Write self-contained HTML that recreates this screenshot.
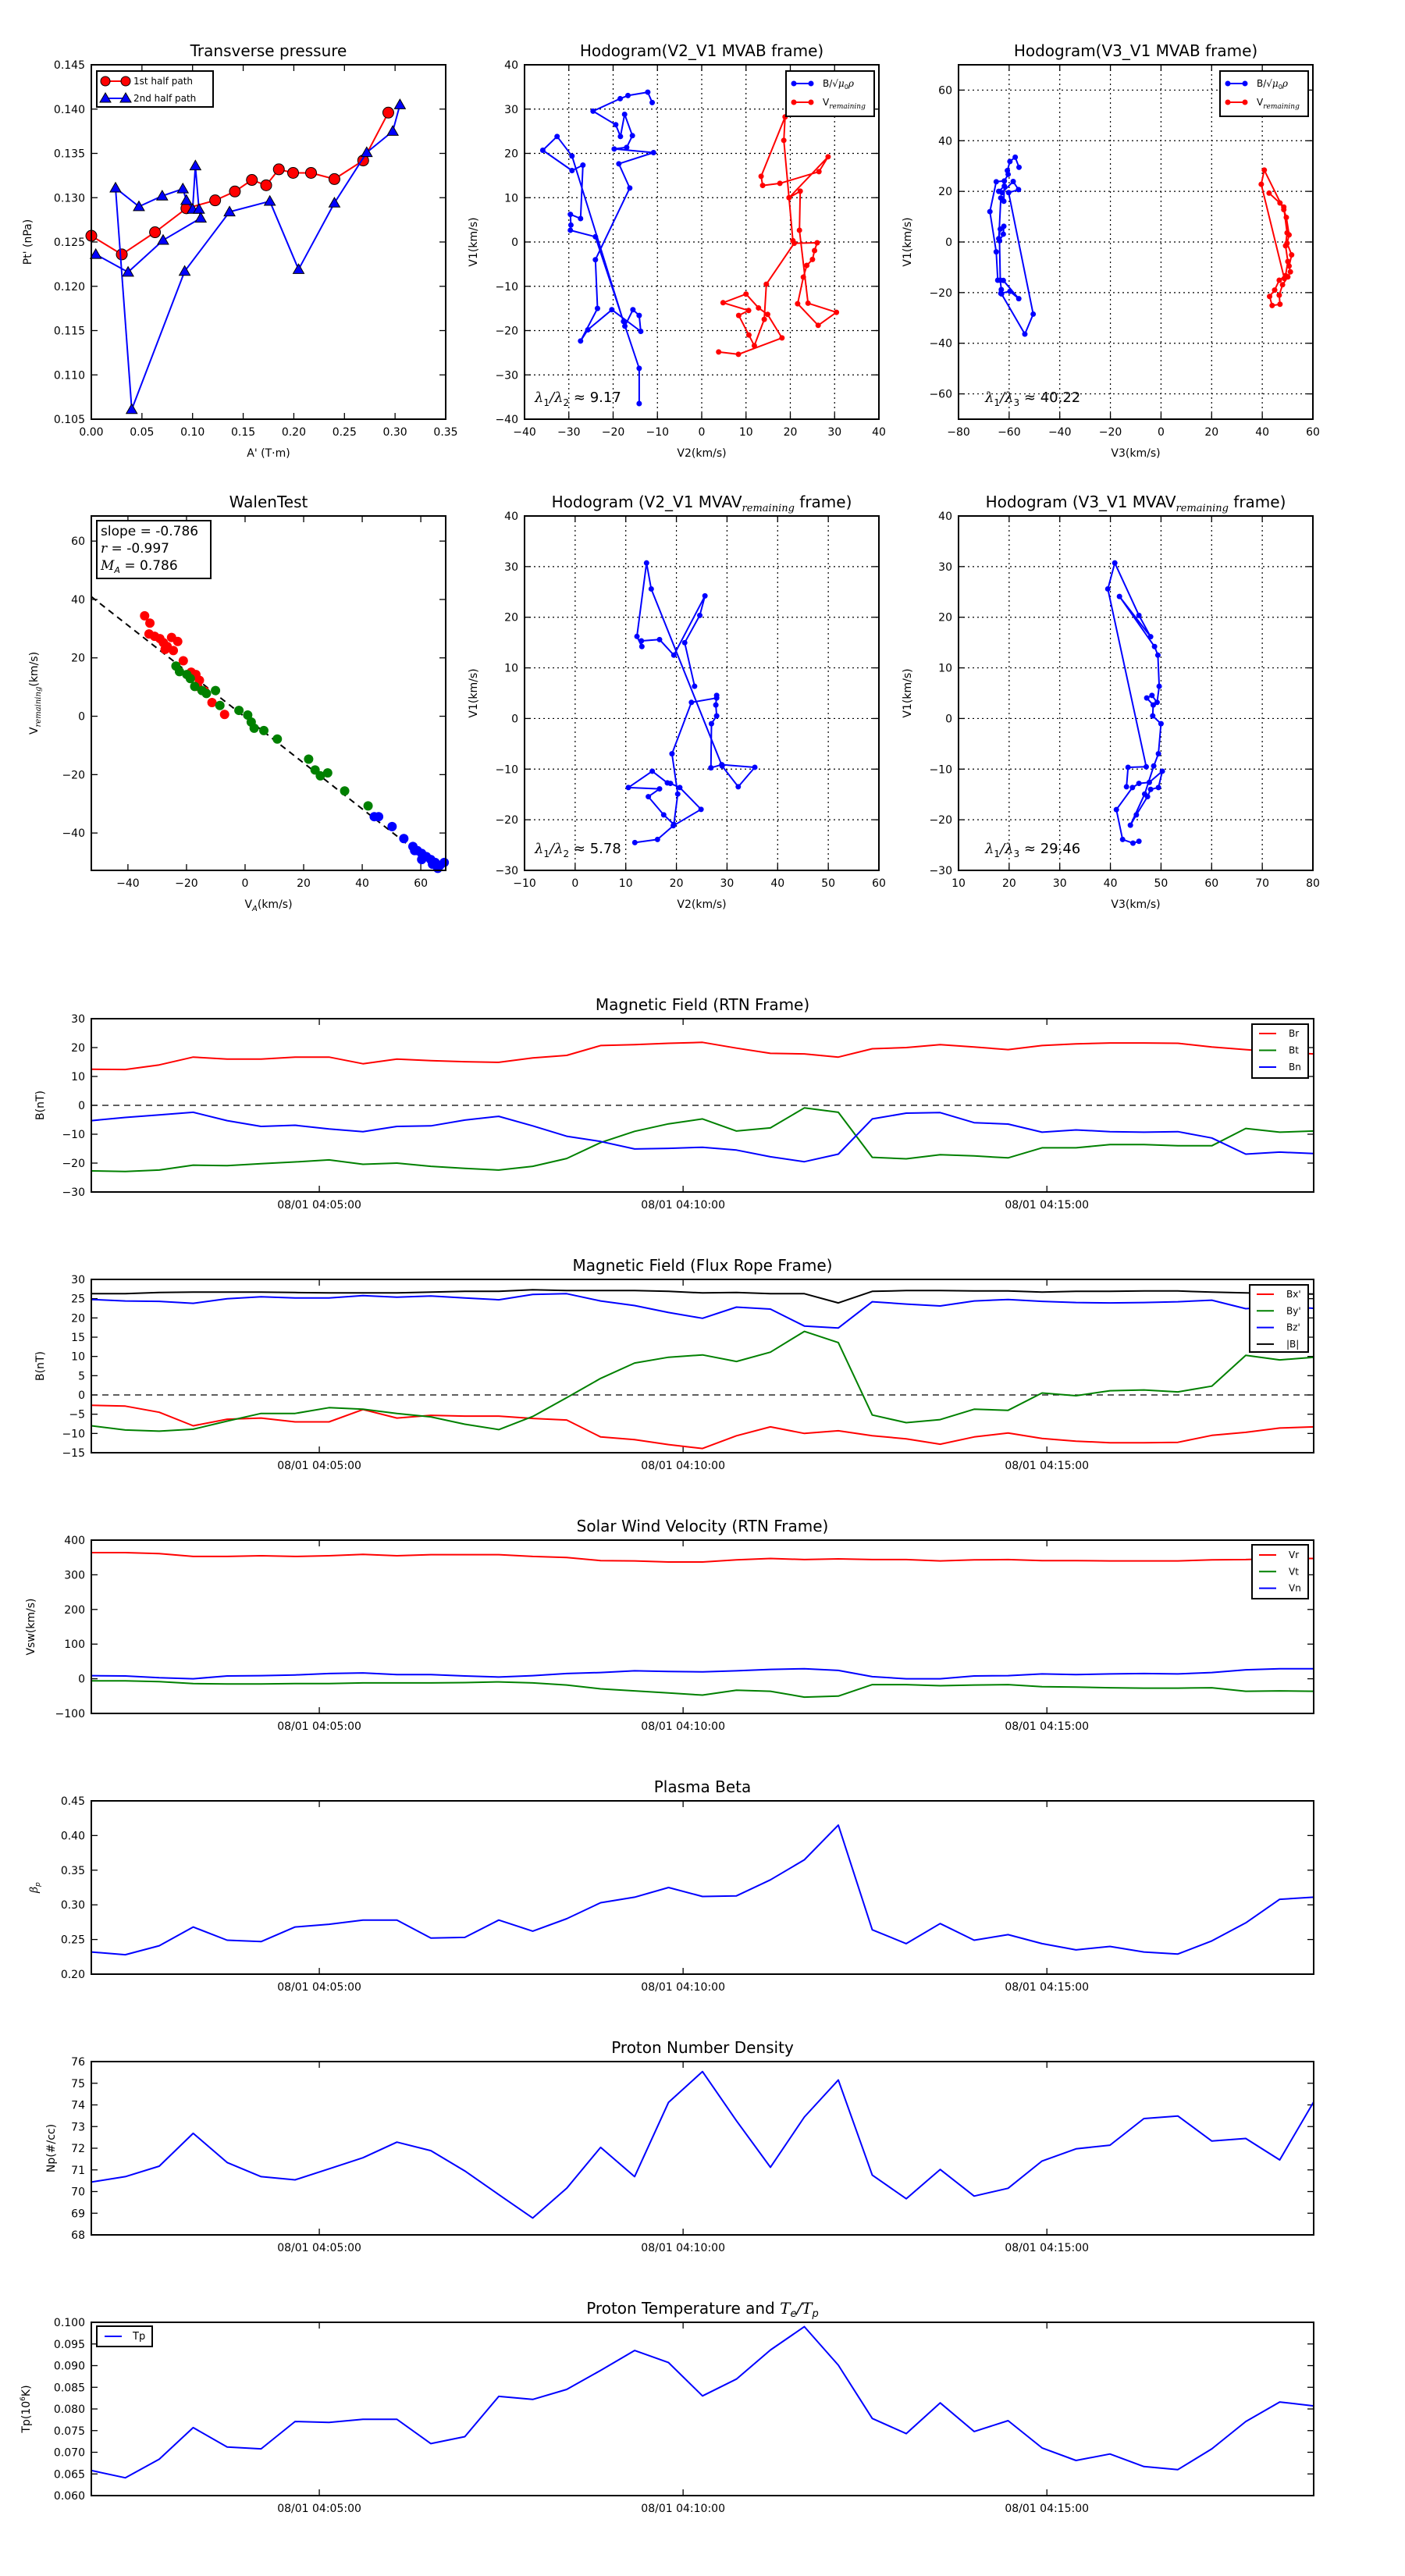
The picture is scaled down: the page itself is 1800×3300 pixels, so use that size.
<!DOCTYPE html>
<html>
<head>
<meta charset="utf-8">
<style>
html,body{margin:0;padding:0;background:#fff;}
svg{display:block;font-family:"DejaVu Sans","Liberation Sans",sans-serif;}
</style>
</head>
<body>
<svg id="fig" xmlns="http://www.w3.org/2000/svg" width="1800" height="3300" viewBox="0 0 1800 3300"></svg>
<script>
// ===== Transverse pressure =====
const tpA1 = [0,0.0301,0.0629,0.0939,0.1223,0.1418,0.1586,0.1727,0.1852,0.1993,0.2170,0.2401,0.2685,0.2933];
const tpP1 = [0.1257,0.1236,0.1261,0.1288,0.1297,0.1307,0.1320,0.1314,0.1332,0.1328,0.1328,0.1321,0.1342,0.1396];
const tpA2 = [0.3048,0.2977,0.2720,0.2401,0.2047,0.1763,0.1365,0.0922,0.0399,0.0239,0.0470,0.0700,0.0904,0.0939,0.1001,0.1028,0.1063,0.1081,0.0709,0.0363,0.0044];
const tpP2 = [0.1405,0.1375,0.1351,0.1294,0.1219,0.1296,0.1284,0.1217,0.1061,0.1311,0.1290,0.1302,0.1310,0.1297,0.1287,0.1336,0.1287,0.1277,0.1252,0.1216,0.1236];
const tpXTicks = [0,0.05,0.10,0.15,0.20,0.25,0.30,0.35];
const tpYTicks = [0.105,0.110,0.115,0.120,0.125,0.130,0.135,0.140,0.145];

// ===== Hodogram V2_V1 MVAB =====
const h1BV2 = [-11.18,-12.18,-16.65,-18.41,-24.53,-19.41,-18.35,-17.41,-15.65,-16.94,-19.76,-10.88,-18.71,-16.24,-24.0,-23.53,-27.35,-25.71,-20.29,-13.76,-14.12,-15.53,-17.35,-29.29,-32.65,-35.88,-29.29,-26.82,-27.35,-29.65,-29.53,-29.65,-24.0,-17.65,-14.12,-14.12];
const h1BV1 = [31.47,33.82,33.06,32.35,29.53,26.47,23.82,28.82,24.0,21.35,21.0,20.18,17.65,12.18,-4.0,-15.0,-22.35,-19.82,-15.29,-20.18,-16.59,-15.29,-19.0,19.41,23.82,20.71,16.12,17.35,5.29,6.24,3.82,2.65,1.18,-17.94,-28.53,-36.47];
const h1VV2 = [3.82,8.29,18.12,14.88,12.82,10.0,4.82,10.59,8.35,10.65,11.88,14.12,14.59,20.88,26.06,25.47,25.0,23.71,22.94,21.65,26.29,30.41,24.0,22.06,22.24,19.71,28.53,26.47,17.65,13.76,13.41,18.82,18.53,20.59];
const h1VV1 = [-24.82,-25.35,-21.65,-16.35,-14.88,-11.76,-13.71,-15.47,-16.59,-21.0,-23.41,-17.47,-9.53,-0.29,-0.18,-1.94,-3.94,-5.29,-7.94,-13.94,-18.82,-15.88,-13.82,2.65,11.47,10.0,19.24,15.88,13.24,12.76,14.82,28.24,22.94,0.29];
const h1Ticks = [-40,-30,-20,-10,0,10,20,30,40];

// ===== Hodogram V3_V1 MVAB =====
const h2BV3 = [-56.1,-57.6,-59.7,-60.7,-60.4,-61.9,-65.1,-67.6,-65.1,-64.5,-62.3,-56.2,-59.7,-63.3,-63.1,-63.5,-63.8,-62.3,-62.1,-63.5,-64.1,-63.3,-62.1,-61.9,-64.1,-62.8,-58.4,-56.3,-60.2,-50.5,-53.8,-63.0];
const h2BV1 = [29.5,33.5,31.8,28.2,26.7,24.1,23.8,12.0,-3.9,-15.1,-15.2,-22.4,-19.5,-20.3,-18.8,-15.1,0.5,3.1,6.2,5.1,1.3,17.4,16.1,22.1,20.0,19.5,23.9,20.7,19.5,-28.5,-36.4,-20.5];
const h2VV3 = [42.7,47.0,48.5,49.8,49.2,50.1,49.2,46.7,44.9,42.9,43.9,47.0,46.7,48.0,50.1,51.1,50.6,51.6,49.8,50.6,49.5,48.5,40.8,39.6,48.7];
const h2VV1 = [19.3,15.4,13.8,3.6,-1.5,-7.7,-13.3,-15.1,-19.0,-21.5,-25.1,-24.6,-21.0,-16.9,-13.8,-11.8,-9.5,-5.1,-0.5,2.8,9.7,12.8,28.4,22.8,-14.4];
const h2XTicks = [-80,-60,-40,-20,0,20,40,60];
const h2YTicks = [-60,-40,-20,0,20,40,60];

// ===== Walen test =====
const wRedVA = [-34.3,-32.5,-32.8,-30.9,-29.1,-27.9,-26.6,-25.1,-23.0,-24.5,-27.3,-21.1,-18.4,-16.8,-15.6,-16.2,-13.8,-11.3,-7.0];
const wRedVR = [34.4,31.9,28.2,27.4,26.6,25.2,23.9,27.0,25.6,22.5,22.9,19.0,15.1,14.3,12.3,10.2,8.6,4.7,0.6];
const wGreenVA = [-23.6,-22.4,-19.9,-18.7,-17.2,-14.7,-13.2,-10.1,-8.6,-2.1,0.9,2.1,3.1,6.4,11.0,21.7,23.9,25.7,28.2,34.0,42.0];
const wGreenVR = [17.2,15.3,14.3,12.9,10.2,8.8,7.8,8.8,3.7,2.0,0.4,-2.0,-4.1,-4.9,-7.8,-14.7,-18.4,-20.4,-19.4,-25.6,-30.7];
const wBlueVA = [44.1,45.6,50.2,54.2,57.3,58.8,60.3,61.9,63.4,64.9,66.5,57.9,60.3,64.0,65.8,68.0];
const wBlueVR = [-34.4,-34.4,-37.8,-41.9,-44.6,-46.0,-47.0,-48.1,-49.1,-50.1,-51.1,-46.0,-49.1,-50.7,-52.1,-50.1];
const wSlope = -0.786;
const wIntercept = -0.3;
const wTicks = [-40,-20,0,20,40,60];

// ===== Hodogram V2_V1 MVAV remaining =====
const h3V2 = [11.79,16.26,19.38,24.87,20.67,18.82,18.21,15.23,10.51,16.67,14.46,17.49,19.49,20.26,19.13,22.97,27.95,27.95,27.79,27.95,26.92,26.82,28.97,35.49,32.21,29.03,15.03,14.1,12.21,13.18,13.08,16.67,19.49,25.64,24.62,21.64,23.59];
const h3V1 = [-24.51,-23.9,-21.18,-17.95,-13.64,-12.82,-12.72,-10.41,-13.64,-13.9,-15.44,-19.03,-20.92,-14.92,-6.97,3.18,4.05,4.56,2.67,0.51,-1.03,-9.74,-9.13,-9.64,-13.49,-9.38,25.59,30.72,16.21,14.21,15.33,15.59,12.51,24.21,20.36,14.97,6.36];
const h3XTicks = [-10,0,10,20,30,40,50,60];
const h3YTicks = [-30,-20,-10,0,10,20,30,40];

// ===== Hodogram V3_V1 MVAV remaining =====
const h4V3 = [45.64,44.46,42.41,41.18,44.36,45.64,47.69,50.26,49.49,47.95,47.33,45.13,43.95,46.77,48.56,49.49,50.0,48.36,48.46,47.18,48.21,49.23,49.64,49.38,48.72,41.79,47.95,45.64,40.87,39.49,47.08,43.49,43.18];
const h4V1 = [-24.26,-24.62,-23.9,-18.0,-13.64,-12.82,-12.62,-10.41,-13.64,-14.0,-15.44,-19.03,-21.08,-14.92,-9.38,-6.97,-1.03,0.51,2.67,4.05,4.56,3.18,6.36,12.51,14.21,24.1,16.15,20.36,30.72,25.59,-9.54,-9.64,-13.49];
const h4XTicks = [10,20,30,40,50,60,70,80];

// ===== Time series (seconds since 04:01:52) =====
const tsTime = [0,28,56,84,112,140,168,196,224,252,280,308,336,364,392,420,448,476,504,532,560,588,616,644,672,700,728,756,784,812,840,868,896,924,952,980,1008];
const tsTickTimes = [188,488,788];
const tsTickLabels = ["08/01 04:05:00","08/01 04:10:00","08/01 04:15:00"];

const rtnBr = [12.5,12.4,14,16.7,16,16,16.7,16.7,14.4,16,15.5,15.1,14.9,16.4,17.3,20.7,21,21.5,21.8,19.8,18,17.8,16.7,19.6,20,21,20.2,19.3,20.7,21.3,21.6,21.6,21.5,20.2,19.3,18.4,17.8];
const rtnBt = [-22.7,-22.9,-22.4,-20.7,-20.9,-20.2,-19.6,-18.9,-20.4,-20,-21.1,-21.8,-22.4,-21.1,-18.4,-12.9,-9,-6.4,-4.7,-8.9,-7.8,-0.9,-2.4,-18,-18.5,-17.1,-17.5,-18.2,-14.7,-14.7,-13.6,-13.6,-14,-14,-8,-9.3,-8.9];
const rtnBn = [-5.3,-4.2,-3.3,-2.4,-5.3,-7.3,-6.9,-8.2,-9.1,-7.3,-7.1,-5.1,-3.8,-7.1,-10.7,-12.5,-15.1,-14.9,-14.5,-15.5,-17.8,-19.5,-16.9,-4.7,-2.7,-2.5,-6,-6.5,-9.3,-8.5,-9.1,-9.3,-9.1,-11.3,-16.9,-16.2,-16.7];
const rtnYTicks = [-30,-20,-10,0,10,20,30];

const frBx = [-2.7,-2.9,-4.5,-8,-6.3,-6,-7,-7,-3.8,-6,-5.3,-5.5,-5.5,-6.1,-6.5,-10.9,-11.6,-12.9,-13.9,-10.6,-8.3,-10,-9.3,-10.6,-11.4,-12.8,-10.9,-9.9,-11.3,-12,-12.4,-12.4,-12.3,-10.5,-9.7,-8.6,-8.3];
const frBy = [-8,-9.1,-9.4,-8.9,-6.8,-4.8,-4.8,-3.3,-3.7,-4.8,-5.7,-7.6,-9,-5.6,-0.7,4.3,8.3,9.8,10.4,8.7,11.1,16.5,13.6,-5.2,-7.2,-6.4,-3.7,-4,0.5,-0.2,1.1,1.3,0.8,2.3,10.3,9.1,9.8];
const frBz = [24.8,24.4,24.3,23.8,25,25.5,25.2,25.2,25.8,25.4,25.7,25.2,24.7,26.1,26.3,24.4,23.2,21.4,19.9,22.8,22.3,17.9,17.4,24.2,23.6,23.1,24.4,24.8,24.3,24,23.9,24,24.2,24.6,22.4,23,22.5];
const frBt = [26.3,26.3,26.6,26.7,26.7,26.7,26.6,26.5,26.5,26.5,26.7,26.9,26.9,27.3,27.1,27.1,27.1,26.9,26.5,26.6,26.3,26.3,23.9,26.9,27.1,27.1,27,27,26.7,26.9,26.9,27,27,26.7,26.5,26.3,26.2];
const frYTicks = [-15,-10,-5,0,5,10,15,20,25,30];

const vVr = [364,364,361,353,353,355,353,355,359,355,358,358,358,353,350,341,340,337,337,343,347,344,346,344,344,340,343,344,341,341,340,340,340,343,344,347,347];
const vVt = [-6,-6,-8,-14,-15,-15,-14,-14,-12,-12,-12,-11,-9,-12,-18,-29,-35,-41,-47,-33,-36,-53,-50,-17,-17,-20,-18,-17,-23,-24,-26,-27,-27,-26,-36,-35,-36];
const vVn = [9,8,3,0,8,9,11,15,17,12,12,8,5,9,15,18,23,21,20,23,27,29,24,6,0,0,8,9,14,12,14,15,14,18,26,29,29];
const vYTicks = [-100,0,100,200,300,400];

const betaP = [0.232,0.228,0.241,0.268,0.249,0.247,0.268,0.272,0.278,0.278,0.252,0.253,0.278,0.262,0.280,0.303,0.311,0.325,0.312,0.313,0.336,0.365,0.415,0.264,0.244,0.273,0.249,0.257,0.244,0.235,0.240,0.232,0.229,0.248,0.274,0.308,0.311];
const betaYTicks = [0.20,0.25,0.30,0.35,0.40,0.45];

const npVals = [70.44,70.69,71.17,72.69,71.34,70.69,70.54,71.05,71.56,72.28,71.89,70.95,69.86,68.78,70.15,72.04,70.69,74.12,75.54,73.27,71.12,73.44,75.15,70.76,69.67,71.02,69.79,70.15,71.41,71.97,72.14,73.37,73.49,72.33,72.45,71.46,74.14];
const npYTicks = [68,69,70,71,72,73,74,75,76];

const tpVals = [0.0658,0.0641,0.0684,0.0757,0.0712,0.0708,0.0771,0.0769,0.0776,0.0776,0.0720,0.0736,0.0829,0.0822,0.0845,0.0889,0.0935,0.0907,0.0830,0.0869,0.0936,0.0990,0.0901,0.0778,0.0743,0.0814,0.0748,0.0773,0.0710,0.0681,0.0696,0.0667,0.0660,0.0708,0.0771,0.0816,0.0807];
const tpYTicksT = [0.060,0.065,0.070,0.075,0.080,0.085,0.090,0.095,0.100];

// ================= drawing helpers =================
const NS = 'http://www.w3.org/2000/svg';
const fig = document.getElementById('fig');
function mk(tag, attrs, parent, text) {
  const e = document.createElementNS(NS, tag);
  for (const k in attrs) e.setAttribute(k, attrs[k]);
  if (text !== undefined && text !== null) e.textContent = text;
  parent.appendChild(e);
  return e;
}
function fmt(v, d) {
  const s = Math.abs(v).toFixed(d);
  return (v < 0 ? '\u2212' : '') + s;
}
function setupAxes(o) {
  const g = mk('g', {}, fig);
  
  
  const sx = v => o.x + (v - o.xlim[0]) / (o.xlim[1] - o.xlim[0]) * o.w;
  const sy = v => o.y + o.h - (v - o.ylim[0]) / (o.ylim[1] - o.ylim[0]) * o.h;
  const grid = mk('g', {stroke: '#000', 'stroke-width': 1.2, 'stroke-dasharray': '2,4'}, g);
  
  
  const ticks = mk('g', {stroke: '#000', 'stroke-width': 1.3}, g);
  
  
  const xl = mk('g', {'font-size': 14, 'text-anchor': 'middle', fill: '#000'}, g);
  
  
  o.xticks.forEach((t, i) => {
    const X = sx(t);
    if (o.grid && X > o.x + 1 && X < o.x + o.w - 1) mk('line', {x1: X, y1: o.y, x2: X, y2: o.y + o.h}, grid);
    mk('line', {x1: X, y1: o.y + o.h, x2: X, y2: o.y + o.h - 8}, ticks);
    mk('line', {x1: X, y1: o.y, x2: X, y2: o.y + 8}, ticks);
    const lab = mk('text', {x: X, y: o.y + o.h + 21}, xl, o.xlabels[i]);
    
    
  });
  const yl = mk('g', {'font-size': 14, 'text-anchor': 'end', fill: '#000'}, g);
  
  
  o.yticks.forEach((t, i) => {
    const Y = sy(t);
    if (o.grid && Y > o.y + 1 && Y < o.y + o.h - 1) mk('line', {x1: o.x, y1: Y, x2: o.x + o.w, y2: Y}, grid);
    mk('line', {x1: o.x, y1: Y, x2: o.x + 8, y2: Y}, ticks);
    mk('line', {x1: o.x + o.w, y1: Y, x2: o.x + o.w - 8, y2: Y}, ticks);
    const lab = mk('text', {x: o.x - 8, y: Y + 5}, yl, o.ylabels[i]);
    
    
  });
  const title = mk('text', {x: o.x + o.w / 2, y: o.y - 11, 'font-size': 20, 'text-anchor': 'middle'}, g);
  title.innerHTML = o.title;
  
  
  if (o.xtitle) {
    const xt = mk('text', {x: o.x + o.w / 2, y: o.y + o.h + 48, 'font-size': 14, 'text-anchor': 'middle'}, g);
    xt.innerHTML = o.xtitle;
    
    
  }
  const cy = o.y + o.h / 2;
  const yt = mk('text', {x: o.ytx, y: cy, 'font-size': 14, 'text-anchor': 'middle', transform: 'rotate(-90 ' + o.ytx + ' ' + cy + ')'}, g);
  yt.innerHTML = o.ytitle;
  
  
  const plot = mk('g', {}, g);
  
  
  return {g, plot, sx, sy, o};
}
function frame(ax) {
  const r = mk('rect', {x: ax.o.x, y: ax.o.y, width: ax.o.w, height: ax.o.h, fill: 'none', stroke: '#000', 'stroke-width': 2}, ax.g);
  
  
}
function polyline(ax, xs, ys, color, width, name) {
  const pts = xs.map((v, i) => ax.sx(v).toFixed(1) + ',' + ax.sy(ys[i]).toFixed(1)).join(' ');
  const p = mk('polyline', {points: pts, fill: 'none', stroke: color, 'stroke-width': width, 'stroke-linejoin': 'round'}, ax.plot);
  
  
  return p;
}
function dots(ax, xs, ys, color, r, name, stroke) {
  const g = mk('g', {fill: color}, ax.plot);
  
  
  xs.forEach((v, i) => {
    const c = mk('circle', {cx: ax.sx(v), cy: ax.sy(ys[i]), r: r}, g);
    if (stroke) { c.setAttribute('stroke', stroke); c.setAttribute('stroke-width', 1); }
    
    
  });
}
function triangles(ax, xs, ys, color, s, name) {
  const g = mk('g', {fill: color, stroke: '#000', 'stroke-width': 1}, ax.plot);
  
  
  xs.forEach((v, i) => {
    const X = ax.sx(v), Y = ax.sy(ys[i]);
    const t = mk('polygon', {points: X + ',' + (Y - s) + ' ' + (X - s) + ',' + (Y + s * 0.75) + ' ' + (X + s) + ',' + (Y + s * 0.75)}, g);
    
    
  });
}
function legend(ax, bx, by, bw, bh, entries, fs, lineX, textX, rowY0, rowGap, markerType) {
  const g = mk('g', {}, ax.g);
  
  
  mk('rect', {x: bx, y: by, width: bw, height: bh, fill: '#fff', stroke: '#000', 'stroke-width': 2}, g);
  entries.forEach((e, i) => {
    const y = rowY0 + i * rowGap;
    const eg = mk('g', {}, g);
    
    
    mk('line', {x1: lineX, y1: y, x2: lineX + 22, y2: y, stroke: e.color, 'stroke-width': 2}, eg);
    if (e.marker === 'dot2') {
      mk('circle', {cx: lineX, cy: y, r: 3.5, fill: e.color}, eg);
      mk('circle', {cx: lineX + 22, cy: y, r: 3.5, fill: e.color}, eg);
    } else if (e.marker === 'circ') {
      mk('circle', {cx: lineX, cy: y, r: 6, fill: e.color, stroke: '#000'}, eg);
      mk('circle', {cx: lineX + 26, cy: y, r: 6, fill: e.color, stroke: '#000'}, eg);
    } else if (e.marker === 'tri') {
      [lineX, lineX + 26].forEach(X => mk('polygon', {points: X + ',' + (y - 7) + ' ' + (X - 7) + ',' + (y + 5) + ' ' + (X + 7) + ',' + (y + 5), fill: e.color, stroke: '#000'}, eg));
    }
    const t = mk('text', {x: textX, y: y + 4, 'font-size': fs}, eg);
    t.innerHTML = e.label;
  });
}
function lambdaText(ax, x, y, sub, val) {
  const t = mk('text', {x: x, y: y, 'font-size': 18}, ax.g);
  t.innerHTML = '<tspan font-family="DejaVu Serif, serif" font-style="italic">λ</tspan><tspan font-size="12" dy="5">1</tspan><tspan dy="-5" font-family="DejaVu Serif, serif" font-style="italic">/λ</tspan><tspan font-size="12" dy="5">' + sub + '</tspan><tspan dy="-5"> ≈ ' + val + '</tspan>';
  
  
}
const mu = 'B/√<tspan font-style="italic" font-family="DejaVu Serif, serif">μ</tspan><tspan font-size="8" dy="3">0</tspan><tspan dy="-3" font-style="italic" font-family="DejaVu Serif, serif">ρ</tspan>';
const vrem = 'V<tspan font-size="9" dy="4" font-style="italic" font-family="DejaVu Serif, serif">remaining</tspan>';

// ===== Panel 1: transverse pressure =====
(function () {
  const ax = setupAxes({name: 'transverse-pressure-chart', x: 117, y: 83, w: 454, h: 454, xlim: [0, 0.35], ylim: [0.105, 0.145],
    xticks: tpXTicks, xlabels: tpXTicks.map(v => v.toFixed(2)), yticks: tpYTicks, ylabels: tpYTicks.map(v => v.toFixed(3)),
    title: 'Transverse pressure', xtitle: "A' (T·m)", ytitle: "Pt' (nPa)", ytx: 40});
  polyline(ax, tpA1, tpP1, '#ff0000', 2, 'first-half-path-line');
  dots(ax, tpA1, tpP1, '#ff0000', 7, 'first-half-path-markers', '#000');
  polyline(ax, tpA2, tpP2, '#0000ff', 2, 'second-half-path-line');
  triangles(ax, tpA2, tpP2, '#0000ff', 7, 'second-half-path-markers');
  legend(ax, 124, 91, 149, 46, [{color: '#ff0000', label: '1st half path', marker: 'circ'}, {color: '#0000ff', label: '2nd half path', marker: 'tri'}], 12, 135, 171, 104, 22, null);
  frame(ax);
})();

// ===== Panel 2 =====
(function () {
  const ax = setupAxes({name: 'hodogram-v2-v1-mvab', x: 672, y: 83, w: 454, h: 454, xlim: [-40, 40], ylim: [-40, 40], grid: true,
    xticks: h1Ticks, xlabels: h1Ticks.map(v => fmt(v, 0)), yticks: h1Ticks, ylabels: h1Ticks.map(v => fmt(v, 0)),
    title: 'Hodogram(V2_V1 MVAB frame)', xtitle: 'V2(km/s)', ytitle: 'V1(km/s)', ytx: 611});
  polyline(ax, h1BV2, h1BV1, '#0000ff', 2, 'b-alfven-path');
  dots(ax, h1BV2, h1BV1, '#0000ff', 3.5, 'b-alfven-points');
  polyline(ax, h1VV2, h1VV1, '#ff0000', 2, 'v-remaining-path');
  dots(ax, h1VV2, h1VV1, '#ff0000', 3.5, 'v-remaining-points');
  legend(ax, 1007, 91, 113, 58, [{color: '#0000ff', label: mu, marker: 'dot2'}, {color: '#ff0000', label: vrem, marker: 'dot2'}], 12, 1017, 1054, 107, 24, null);
  lambdaText(ax, 685, 515, '2', '9.17');
  frame(ax);
})();

// ===== Panel 3 =====
(function () {
  const ax = setupAxes({name: 'hodogram-v3-v1-mvab', x: 1228, y: 83, w: 454, h: 454, xlim: [-80, 60], ylim: [-70, 70], grid: true,
    xticks: h2XTicks, xlabels: h2XTicks.map(v => fmt(v, 0)), yticks: h2YTicks, ylabels: h2YTicks.map(v => fmt(v, 0)),
    title: 'Hodogram(V3_V1 MVAB frame)', xtitle: 'V3(km/s)', ytitle: 'V1(km/s)', ytx: 1167});
  polyline(ax, h2BV3, h2BV1, '#0000ff', 2, 'b-alfven-path');
  dots(ax, h2BV3, h2BV1, '#0000ff', 3.5, 'b-alfven-points');
  polyline(ax, h2VV3, h2VV1, '#ff0000', 2, 'v-remaining-path');
  dots(ax, h2VV3, h2VV1, '#ff0000', 3.5, 'v-remaining-points');
  legend(ax, 1563, 91, 113, 58, [{color: '#0000ff', label: mu, marker: 'dot2'}, {color: '#ff0000', label: vrem, marker: 'dot2'}], 12, 1573, 1610, 107, 24, null);
  lambdaText(ax, 1262, 515, '3', '40.22');
  frame(ax);
})();

// ===== Panel 4: Walen test =====
(function () {
  const ax = setupAxes({name: 'walen-test-chart', x: 117, y: 661, w: 454, h: 454, xlim: [-52.5, 68.5], ylim: [-52.8, 68.6],
    xticks: wTicks, xlabels: wTicks.map(v => fmt(v, 0)), yticks: wTicks, ylabels: wTicks.map(v => fmt(v, 0)),
    title: 'WalenTest', xtitle: 'V<tspan font-size="10" dy="4" font-style="italic">A</tspan><tspan dy="-4">(km/s)</tspan>',
    ytitle: 'V<tspan font-size="10" dy="4" font-style="italic" font-family="DejaVu Serif, serif">remaining</tspan><tspan dy="-4">(km/s)</tspan>', ytx: 48});
  const xa = -52.5, xb = 66.5;
  const fit = mk('line', {x1: ax.sx(xa), y1: ax.sy(wSlope * xa + wIntercept), x2: ax.sx(xb), y2: ax.sy(wSlope * xb + wIntercept), stroke: '#000', 'stroke-width': 2, 'stroke-dasharray': '8,6'}, ax.plot);
  
  
  dots(ax, wRedVA, wRedVR, '#ff0000', 6, 'walen-points-red');
  dots(ax, wGreenVA, wGreenVR, '#008000', 6, 'walen-points-green');
  dots(ax, wBlueVA, wBlueVR, '#0000ff', 6, 'walen-points-blue');
  const box = mk('g', {}, ax.g);
  
  
  mk('rect', {x: 124, y: 667, width: 146, height: 74, fill: '#fff', stroke: '#000', 'stroke-width': 2}, box);
  mk('text', {x: 129, y: 686, 'font-size': 17}, box, 'slope = ' + fmt(wSlope, 3).replace('\u2212', '-'));
  const t2 = mk('text', {x: 129, y: 708, 'font-size': 17}, box);
  t2.innerHTML = '<tspan font-style="italic" font-family="DejaVu Serif, serif">r</tspan> = -0.997';
  const t3 = mk('text', {x: 129, y: 730, 'font-size': 17}, box);
  t3.innerHTML = '<tspan font-style="italic" font-family="DejaVu Serif, serif">M</tspan><tspan font-size="11" dy="4" font-style="italic">A</tspan><tspan dy="-4"> = 0.786</tspan>';
  frame(ax);
})();

// ===== Panel 5 =====
(function () {
  const ax = setupAxes({name: 'hodogram-v2-v1-mvav', x: 672, y: 661, w: 454, h: 454, xlim: [-10, 60], ylim: [-30, 40], grid: true,
    xticks: h3XTicks, xlabels: h3XTicks.map(v => fmt(v, 0)), yticks: h3YTicks, ylabels: h3YTicks.map(v => fmt(v, 0)),
    title: 'Hodogram (V2_V1 MVAV<tspan font-size="13" dy="5" font-style="italic" font-family="DejaVu Serif, serif">remaining</tspan><tspan dy="-5"> frame)</tspan>', xtitle: 'V2(km/s)', ytitle: 'V1(km/s)', ytx: 611});
  polyline(ax, h3V2, h3V1, '#0000ff', 2, 'hodogram-path');
  dots(ax, h3V2, h3V1, '#0000ff', 3.5, 'hodogram-points');
  lambdaText(ax, 685, 1093, '2', '5.78');
  frame(ax);
})();

// ===== Panel 6 =====
(function () {
  const ax = setupAxes({name: 'hodogram-v3-v1-mvav', x: 1228, y: 661, w: 454, h: 454, xlim: [10, 80], ylim: [-30, 40], grid: true,
    xticks: h4XTicks, xlabels: h4XTicks.map(v => fmt(v, 0)), yticks: h3YTicks, ylabels: h3YTicks.map(v => fmt(v, 0)),
    title: 'Hodogram (V3_V1 MVAV<tspan font-size="13" dy="5" font-style="italic" font-family="DejaVu Serif, serif">remaining</tspan><tspan dy="-5"> frame)</tspan>', xtitle: 'V3(km/s)', ytitle: 'V1(km/s)', ytx: 1167});
  polyline(ax, h4V3, h4V1, '#0000ff', 2, 'hodogram-path');
  dots(ax, h4V3, h4V1, '#0000ff', 3.5, 'hodogram-points');
  lambdaText(ax, 1262, 1093, '3', '29.46');
  frame(ax);
})();

// ===== Time series panels =====
function tsAxes(name, top, ylim, yticks, dec, title, ytitle, ytx) {
  return setupAxes({name: name, x: 117, y: top, w: 1566, h: 222, xlim: [0, 1008], ylim: ylim,
    xticks: tsTickTimes, xlabels: tsTickLabels, yticks: yticks, ylabels: yticks.map(v => fmt(v, dec)),
    title: title, ytitle: ytitle, ytx: ytx});
}
function zeroLine(ax) {
  const z = mk('line', {x1: ax.o.x, y1: ax.sy(0), x2: ax.o.x + ax.o.w, y2: ax.sy(0), stroke: '#000', 'stroke-width': 1.3, 'stroke-dasharray': '8,6'}, ax.plot);
  
  
}
(function () {
  const ax = tsAxes('magnetic-field-rtn-chart', 1305, [-30, 30], rtnYTicks, 0, 'Magnetic Field (RTN Frame)', 'B(nT)', 56);
  zeroLine(ax);
  polyline(ax, tsTime, rtnBr, '#ff0000', 2, 'br-line');
  polyline(ax, tsTime, rtnBt, '#008000', 2, 'bt-line');
  polyline(ax, tsTime, rtnBn, '#0000ff', 2, 'bn-line');
  legend(ax, 1604, 1312, 72, 69, [{color: '#ff0000', label: 'Br'}, {color: '#008000', label: 'Bt'}, {color: '#0000ff', label: 'Bn'}], 12, 1613, 1651, 1324, 21.5, null);
  frame(ax);
})();
(function () {
  const ax = tsAxes('magnetic-field-flux-rope-chart', 1639, [-15, 30], frYTicks, 0, 'Magnetic Field (Flux Rope Frame)', 'B(nT)', 56);
  zeroLine(ax);
  polyline(ax, tsTime, frBx, '#ff0000', 2, 'bx-line');
  polyline(ax, tsTime, frBy, '#008000', 2, 'by-line');
  polyline(ax, tsTime, frBz, '#0000ff', 2, 'bz-line');
  polyline(ax, tsTime, frBt, '#000000', 2, 'b-magnitude-line');
  legend(ax, 1601, 1646, 75, 86, [{color: '#ff0000', label: "Bx'"}, {color: '#008000', label: "By'"}, {color: '#0000ff', label: "Bz'"}, {color: '#000000', label: '|B|'}], 12, 1610, 1648, 1658, 21.3, null);
  frame(ax);
})();
(function () {
  const ax = tsAxes('solar-wind-velocity-chart', 1973, [-100, 400], vYTicks, 0, 'Solar Wind Velocity (RTN Frame)', 'Vsw(km/s)', 44);
  polyline(ax, tsTime, vVr, '#ff0000', 2, 'vr-line');
  polyline(ax, tsTime, vVt, '#008000', 2, 'vt-line');
  polyline(ax, tsTime, vVn, '#0000ff', 2, 'vn-line');
  legend(ax, 1604, 1979, 72, 69, [{color: '#ff0000', label: 'Vr'}, {color: '#008000', label: 'Vt'}, {color: '#0000ff', label: 'Vn'}], 12, 1613, 1651, 1992, 21.3, null);
  frame(ax);
})();
(function () {
  const ax = tsAxes('plasma-beta-chart', 2307, [0.20, 0.45], betaYTicks, 2, 'Plasma Beta',
    '<tspan font-style="italic" font-family="DejaVu Serif, serif">β</tspan><tspan font-size="9" dy="3" font-style="italic">p</tspan>', 48);
  polyline(ax, tsTime, betaP, '#0000ff', 2, 'beta-line');
  frame(ax);
})();
(function () {
  const ax = tsAxes('proton-density-chart', 2641, [68, 76], npYTicks, 0, 'Proton Number Density', 'Np(#/cc)', 70);
  polyline(ax, tsTime, npVals, '#0000ff', 2, 'np-line');
  frame(ax);
})();
(function () {
  const ax = tsAxes('proton-temperature-chart', 2975, [0.060, 0.100], tpYTicksT, 3,
    'Proton Temperature and <tspan font-style="italic" font-family="DejaVu Serif, serif">T</tspan><tspan font-size="13" dy="4" font-style="italic">e</tspan><tspan dy="-4" font-style="italic" font-family="DejaVu Serif, serif">/T</tspan><tspan font-size="13" dy="4" font-style="italic">p</tspan>',
    'Tp(10<tspan font-size="9" dy="-6">6</tspan><tspan dy="6">K)</tspan>', 38);
  polyline(ax, tsTime, tpVals, '#0000ff', 2, 'tp-line');
  legend(ax, 124, 2980, 71, 26, [{color: '#0000ff', label: 'Tp'}], 13, 134, 170, 2993, 0, null);
  frame(ax);
})();
</script>
</body>
</html>
